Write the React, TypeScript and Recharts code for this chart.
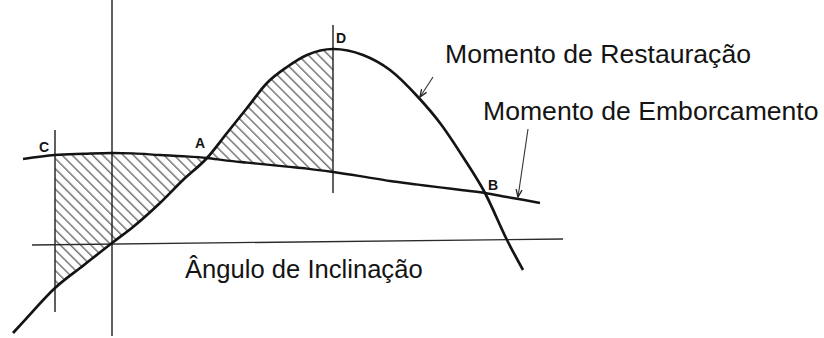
import React from "react";
import { ComposedChart, Line, Area, XAxis, YAxis, ReferenceLine, ReferenceDot } from "recharts";

// Heel angle (chart units) and the two moment curves
const angles = [-24.75, -22.25, -14.25, -7, 0, 5.25, 12, 17.75, 23.75, 28.75, 33.75, 38.75, 43.75, 48.75, 55.25, 62.75, 69.5, 76.5, 82, 87.75, 93.25, 98.75, 102.75, 107];
const restoring = [-22.5, -19.8, -11.25, -5.5, 0, 4, 10, 15.75, 21.25, 27.5, 33.75, 40, 44, 47, 48.5, 47, 43.25, 36.5, 30, 21.5, 12.5, 0.75, -6.75, null];
const heeling = [null, 21, 22, 22.3, 22.5, 22.4, 22, 21.7, 21.25, 20.6, 20.1, 19.6, 19.1, 18.6, 17.75, 16.6, 15.5, 14.6, 13.9, 13.2, 12.5, 11.5, 10.8, 10];

// Key angles
const angleC = -14.25;
const angleA = 23.75;
const angleD = 55.25;

const data = angles.map((a, i) => {
  const r = restoring[i];
  const h = heeling[i];
  const both = r != null && h != null;
  return {
    angle: a,
    restoring: r,
    heeling: h,
    hatch1: both && a >= angleC && a <= angleA ? [r, h] : null,
    hatch2: both && a >= angleA && a <= angleD ? [h, r] : null,
  };
});

const FONT = "'Liberation Sans', Arial, sans-serif";
const INK = "#141414";

const arrowShape = (p: any) => {
  const { x1, y1, x2, y2 } = p;
  const ang = Math.atan2(y2 - y1, x2 - x1);
  const len = 8;
  const spread = 0.38;
  const ax = x2 - len * Math.cos(ang - spread);
  const ay = y2 - len * Math.sin(ang - spread);
  const bx = x2 - len * Math.cos(ang + spread);
  const by = y2 - len * Math.sin(ang + spread);
  return (
    <g>
      <line x1={x1} y1={y1} x2={x2} y2={y2} stroke="#333" strokeWidth={1.1} />
      <polyline points={`${ax},${ay} ${x2},${y2} ${bx},${by}`} fill="none" stroke="#222" strokeWidth={1.3} />
    </g>
  );
};

const textShape = (label: string, size: number) => (p: any) => (
  <text x={p.cx} y={p.cy} fontSize={size} fontFamily={FONT} fill={INK} textAnchor="start">
    {label}
  </text>
);

const centerText = (label: string) => (p: any) => (
  <text x={p.cx} y={p.cy} fontSize={14} fontWeight="bold" fontFamily={FONT} fill={INK} textAnchor="middle">
    {label}
  </text>
);

export default function App() {
  return (
    <div style={{ position: "absolute", left: 0, top: 0, width: 824, height: 338, background: "#fff" }}>
      <ComposedChart width={824} height={338} data={data} margin={{ top: 0, right: 0, bottom: 0, left: 0 }}>
        <defs>
          <pattern id="hatch" width="7.2" height="7.2" patternUnits="userSpaceOnUse" patternTransform="rotate(45)">
            <line x1="0" y1="1" x2="7.2" y2="1" stroke="#333" strokeWidth={1} />
          </pattern>
        </defs>
        <XAxis type="number" dataKey="angle" domain={[-28, 178]} hide allowDataOverflow />
        <YAxis type="number" domain={[-23.75, 60.75]} hide allowDataOverflow />

        <Area dataKey="hatch1" type="monotone" stroke="none" fill="url(#hatch)" fillOpacity={1} isAnimationActive={false} dot={false} activeDot={false} />
        <Area dataKey="hatch2" type="monotone" stroke="none" fill="url(#hatch)" fillOpacity={1} isAnimationActive={false} dot={false} activeDot={false} />

        {/* axes */}
        <ReferenceLine segment={[{ x: -20, y: -0.5 }, { x: 112.75, y: 1 }]} stroke="#2b2b2b" strokeWidth={1.3} />
        <ReferenceLine segment={[{ x: 0, y: -23.25 }, { x: 0, y: 60.75 }]} stroke="#1e1e1e" strokeWidth={1.4} />
        {/* C and D verticals */}
        <ReferenceLine segment={[{ x: angleC, y: -17.25 }, { x: angleC, y: 28.25 }]} stroke="#2b2b2b" strokeWidth={1.5} />
        <ReferenceLine segment={[{ x: angleD, y: 12.5 }, { x: angleD, y: 54.5 }]} stroke="#2b2b2b" strokeWidth={1.5} />

        <Line dataKey="heeling" type="monotone" stroke={INK} strokeWidth={2.4} dot={false} activeDot={false} isAnimationActive={false} connectNulls={false} />
        <Line dataKey="restoring" type="monotone" stroke={INK} strokeWidth={2.7} dot={false} activeDot={false} isAnimationActive={false} connectNulls={false} />

        {/* pointer arrows */}
        <ReferenceLine segment={[{ x: 80.25, y: 41.5 }, { x: 77, y: 36.5 }]} shape={arrowShape} />
        <ReferenceLine segment={[{ x: 104, y: 28.5 }, { x: 101.5, y: 11.5 }]} shape={arrowShape} />

        {/* point letters */}
        <ReferenceDot x={-17} y={22.75} r={0} shape={centerText("C")} />
        <ReferenceDot x={22} y={23.75} r={0} shape={centerText("A")} />
        <ReferenceDot x={57.25} y={50} r={0} shape={centerText("D")} />
        <ReferenceDot x={95.25} y={13.25} r={0} shape={centerText("B")} />

        {/* captions */}
        <ReferenceDot x={83.25} y={45} r={0} shape={textShape("Momento de Restauração", 26.6)} />
        <ReferenceDot x={92.75} y={30.75} r={0} shape={textShape("Momento de Emborcamento", 26.6)} />
        <ReferenceDot x={18.25} y={-8.75} r={0} shape={textShape("Ângulo de Inclinação", 25.6)} />
      </ComposedChart>
    </div>
  );
}
